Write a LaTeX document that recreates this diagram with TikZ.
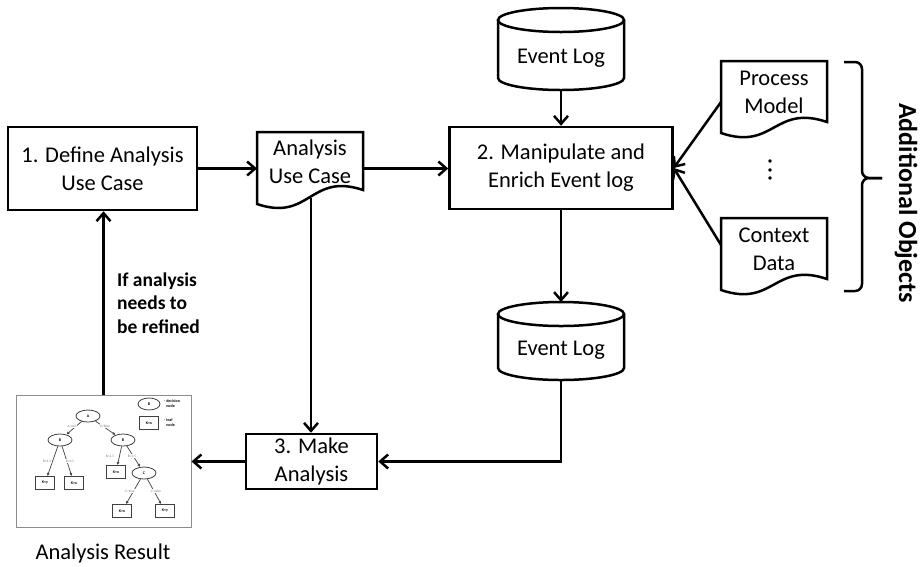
\documentclass[tikz,border=0pt]{standalone}
\usepackage{fontspec}
\setmainfont{Carlito}
\usetikzlibrary{arrows.meta,shapes.geometric}

\tikzset{
  stroke/.style={line width=2.5pt, line join=miter},
  flow/.style={stroke, -{Straight Barb[length=8pt,width=14pt]}},
  txt/.style={font=\fontsize{22.5}{28}\selectfont, align=center, inner sep=0pt},
  procbox/.style={txt, draw, stroke, fill=white},
  frame/.style={inner sep=0pt, outer sep=0pt},
  % small decision tree
  tdec/.style={draw=black!75, ellipse, line width=0.8pt, inner sep=0pt,
    minimum width=24pt, minimum height=12pt, font=\fontsize{4}{4}\selectfont\bfseries},
  tleaf/.style={draw=black!75, rectangle, line width=0.9pt, inner sep=0pt,
    minimum width=19pt, minimum height=13pt, font=\fontsize{4}{4}\selectfont\bfseries},
  tlab/.style={font=\fontsize{3.5}{4}\selectfont, text=black!50, inner sep=0.5pt, fill=white},
  tedge/.style={line width=0.7pt, black!75, -{Latex[length=3pt,width=3pt]}},
}

\begin{document}
\begin{tikzpicture}[x=1pt, y=-1pt]
\useasboundingbox (0,0) rectangle (920,566);

% ---------- process steps ----------
\node[procbox, minimum width=189pt, minimum height=83pt] (b1) at (102.5,168.5)
  {1. Define Analysis\\Use Case};
\node[procbox, minimum width=223pt, minimum height=82pt] (b2) at (561,168)
  {2. Manipulate and\\Enrich Event log};
\node[procbox, minimum width=131pt, minimum height=55pt] (b3) at (311.5,461.5)
  {3. Make\\Analysis};

% ---------- documents ----------
\node[frame, minimum width=106pt, minimum height=72pt] (auc) at (310,168.5) {};
\draw[stroke, fill=white] (257,132) -- (363,132) -- (363,190)
  .. controls (310,172) and (310,222) .. (257,204) -- cycle;
\node[txt] (auct) at (310,162) {Analysis\\Use Case};

\node[frame, minimum width=106pt, minimum height=72pt] (pm) at (774,97) {};
\draw[stroke, fill=white] (721,61) -- (827,61) -- (827,122)
  .. controls (774,104) and (774,151) .. (721,133) -- cycle;
\node[txt] (pmt) at (774,92) {Process\\Model};

\node[frame, minimum width=106pt, minimum height=72pt] (cd) at (774,254) {};
\draw[stroke, fill=white] (721,218) -- (827,218) -- (827,279)
  .. controls (774,261) and (774,308) .. (721,290) -- cycle;
\node[txt] (cdt) at (774,249) {Context\\Data};

\node[txt, rotate=90, font=\fontsize{22.5}{28}\selectfont\bfseries] (dots) at (770,170)
  {.\hspace{2.5pt}.\hspace{2.5pt}.};

% ---------- event logs (cylinders) ----------
\node[frame, minimum width=126pt, minimum height=82pt] (log1) at (561,49) {};
\draw[stroke, fill=white] (498,20) -- (498,78)
  .. controls (498,84.6) and (526.2,90) .. (561,90)
  .. controls (595.8,90) and (624,84.6) .. (624,78) -- (624,20);
\draw[stroke, fill=white] (561,20) ellipse [x radius=63pt, y radius=12pt];
\node[txt] (log1t) at (561,58) {Event Log};

\node[frame, minimum width=126pt, minimum height=78pt] (log2) at (561,341) {};
\draw[stroke, fill=white] (498,314) -- (498,368)
  .. controls (498,374.6) and (526.2,380) .. (561,380)
  .. controls (595.8,380) and (624,374.6) .. (624,368) -- (624,314);
\draw[stroke, fill=white] (561,314) ellipse [x radius=63pt, y radius=12pt];
\node[txt] (log2t) at (561,350) {Event Log};

% ---------- brace and its label ----------
\draw[stroke, rounded corners=7pt] (844,62) -- (862,62) -- (862,178) -- (882,178);
\draw[stroke, rounded corners=7pt] (844,291) -- (862,291) -- (862,178) -- (882,178);
\node[txt, rotate=-90, font=\fontsize{26}{30}\selectfont\bfseries] (addobj) at (906,203)
  {Additional Objects};

% ---------- analysis result: decision tree picture ----------
\node[draw=black!45, line width=1pt, fill=white, inner sep=0pt,
  minimum width=175pt, minimum height=132pt] (img) at (103.5,461) {};

\node[tdec] (tA) at (88,416) {A};
\node[tdec] (tB1) at (60,440) {B};
\node[tdec] (tB2) at (123,440) {B};
\node[tleaf] (tL1) at (45,483) {K=y};
\node[tleaf] (tL2) at (74,483) {K=x};
\node[tleaf] (tL3) at (116,472) {K=x};
\node[tdec] (tC) at (144,473) {C};
\node[tleaf] (tL4) at (122,511) {K=x};
\node[tleaf] (tL5) at (165,511) {K=y};

\draw[tedge] (tA) -- (tB1);
\draw[tedge] (tA) -- (tB2);
\draw[tedge] (tB1) -- (tL1);
\draw[tedge] (tB1) -- (tL2);
\draw[tedge] (tB2) -- (tL3);
\draw[tedge] (tB2) -- (tC);
\draw[tedge] (tC) -- (tL4);
\draw[tedge] (tC) -- (tL5);

\node[tlab] (e1) at (72,426) {A=red};
\node[tlab] (e2) at (105,426) {A=blue};
\node[tlab] (e3) at (47,461) {B<4.5};
\node[tlab] (e4) at (70,461) {B>4.5};
\node[tlab] (e5) at (110,456) {B<2.5};
\node[tlab] (e6) at (132,456) {B>2.5};
\node[tlab] (e7) at (130,491) {C=true};
\node[tlab] (e8) at (156,491) {C=false};

\node[tdec, minimum width=22pt] (kdec) at (149,404) {B};
\node[tleaf] (kleaf) at (149,423) {K=x};
\node[anchor=west, align=left, inner sep=0pt, font=\fontsize{4}{5}\selectfont\bfseries]
  (kdect) at (164,404) {- decision\\\phantom{- }node};
\node[anchor=west, align=left, inner sep=0pt, font=\fontsize{4}{5}\selectfont\bfseries]
  (kleaft) at (164,423) {- leaf\\\phantom{- }node};

\node[txt] (res) at (103,553) {Analysis Result};

% ---------- connectors ----------
\coordinate (aucb) at (311,198);
\draw[flow] (b1.east) -- (b1.east -| auc.west);
\draw[flow] (auc.east) -- (auc.east -| b2.west);
\draw[flow] (log1.south) -- (log1.south |- b2.north);
\draw[flow] ([yshift=-5pt]pm.west) -- (b2.east);
\draw[flow] ([yshift=9pt]cd.west) -- (b2.east);
\draw[flow] (b2.south) -- (b2.south |- log2.north);
\draw[flow] (aucb) -- (aucb |- b3.north);
\draw[flow] (log2.south) -- (log2.south |- b3.east) -- (b3.east);
\draw[flow] (b3.west) -- (b3.west -| img.east);
\draw[flow] (img.north) -- (img.north |- b1.south);

\node[anchor=west, align=left, inner sep=0pt, font=\fontsize{19.5}{23.5}\selectfont\bfseries]
  (refine) at (117,303) {If analysis\\needs to\\be refined};
\end{tikzpicture}
\end{document}
